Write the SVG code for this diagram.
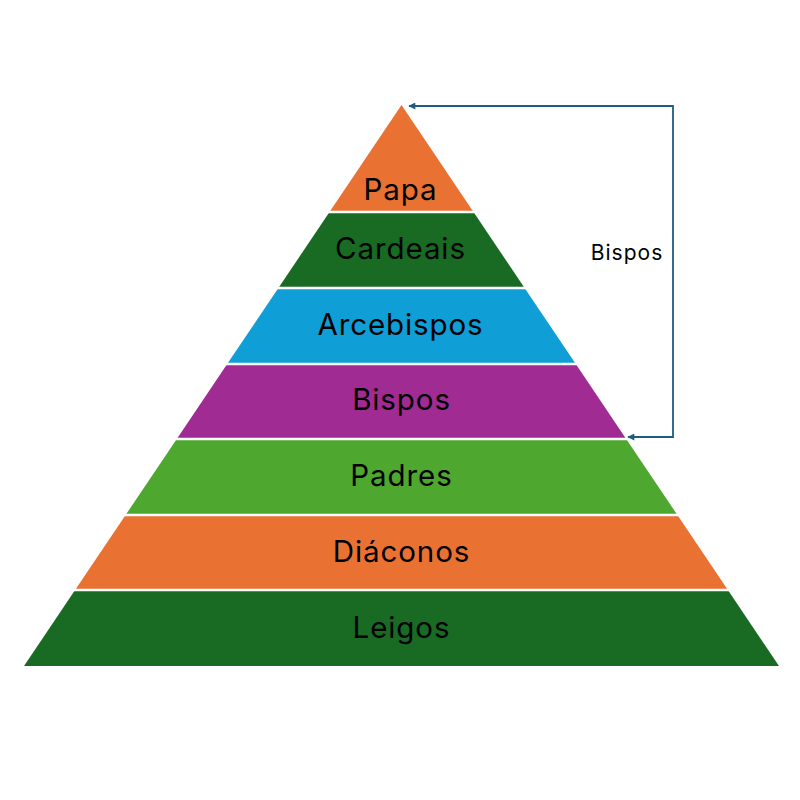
<svg xmlns="http://www.w3.org/2000/svg" width="800" height="800" viewBox="0 0 800 800">
  <style>
    .lbl { font-family: Inter, "Liberation Sans", sans-serif; font-size: 29.5px; fill: #000; text-anchor: middle; letter-spacing: 0.9px; }
    .side { font-family: Inter, "Liberation Sans", sans-serif; font-size: 21px; fill: #000; text-anchor: middle; letter-spacing: 1px; }
    .sep { stroke: #fff; stroke-width: 2.5; }
    .conn { fill: none; stroke: #1F5C7E; stroke-width: 1.8; }
  </style>
  <defs>
    <marker id="arrow" viewBox="0 0 10 10" refX="9" refY="5" markerWidth="8" markerHeight="7" orient="auto-start-reverse" markerUnits="userSpaceOnUse">
      <path d="M0,0 L10,5 L0,10 Z" fill="#1F5C7E"/>
    </marker>
  </defs>
  <rect width="800" height="800" fill="#fff"/>
  <g id="papa">
    <polygon points="401.5,105 473.5,212 329.5,212" fill="#E97132"/>
    <text class="lbl" x="400.5" y="200">Papa</text>
  </g>
  <g id="cardeais">
    <polygon points="329.5,212 473.5,212 524.6,288 278.4,288" fill="#196B24"/>
    <text class="lbl" x="400.5" y="259">Cardeais</text>
  </g>
  <g id="arcebispos">
    <polygon points="278.4,288 524.6,288 575.8,364 227.2,364" fill="#0F9ED5"/>
    <text class="lbl" x="400.5" y="335">Arcebispos</text>
  </g>
  <g id="bispos">
    <polygon points="227.2,364 575.8,364 626.2,439 176.8,439" fill="#A02B93"/>
    <text class="lbl" x="401.5" y="410">Bispos</text>
  </g>
  <g id="padres">
    <polygon points="176.8,439 626.2,439 677.4,515 125.6,515" fill="#4EA72E"/>
    <text class="lbl" x="401.5" y="486">Padres</text>
  </g>
  <g id="diaconos">
    <polygon points="125.6,515 677.4,515 727.9,590 75.1,590" fill="#E97132"/>
    <text class="lbl" x="401.5" y="562">Diáconos</text>
  </g>
  <g id="leigos">
    <polygon points="75.1,590 727.9,590 779,666 24,666" fill="#196B24"/>
    <text class="lbl" x="401.5" y="638">Leigos</text>
  </g>
  <g id="separators">
    <line class="sep" x1="328" y1="212" x2="475" y2="212"/>
    <line class="sep" x1="277" y1="288" x2="526" y2="288"/>
    <line class="sep" x1="226" y1="364" x2="577" y2="364"/>
    <line class="sep" x1="175" y1="439" x2="627" y2="439"/>
    <line class="sep" x1="124" y1="515" x2="679" y2="515"/>
    <line class="sep" x1="73" y1="590" x2="729" y2="590"/>
  </g>
  <g id="connectors">
    <polyline class="conn" points="628,437 673,437 673,106 409,106" marker-start="url(#arrow)" marker-end="url(#arrow)"/>
  </g>
  <g id="bispos-label">
    <text class="side" x="627" y="260">Bispos</text>
  </g>
</svg>
